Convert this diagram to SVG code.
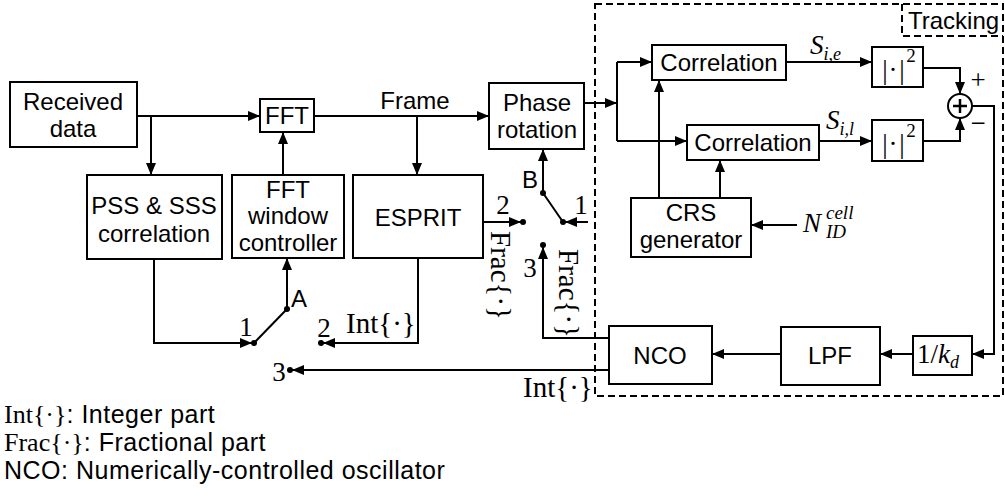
<svg xmlns="http://www.w3.org/2000/svg" width="1005" height="498" viewBox="0 0 1005 498">
<style>
rect.b{fill:#fff;stroke:#000;stroke-width:2}
.c path,.c line,.c polyline{fill:none;stroke:#000;stroke-width:2}
.s{font-family:"Liberation Sans",Arial,sans-serif;font-size:24px;fill:#000}
.m{font-family:"Liberation Serif","Times New Roman",serif;font-size:27px;fill:#000}
.f{font-family:"Liberation Serif","Times New Roman",serif;font-size:29px;fill:#000}
.fl{font-family:"Liberation Serif","Times New Roman",serif;font-size:26px;fill:#000}
.mi{font-family:"Liberation Serif","Times New Roman",serif;font-size:27px;font-style:italic;fill:#000}
.lg{font-family:"Liberation Sans",Arial,sans-serif;font-size:25px;letter-spacing:0.5px;fill:#000}
.mid{text-anchor:middle}
.dot{fill:#000}
.dash{fill:none;stroke:#000;stroke-width:2;stroke-dasharray:7 4}
</style>
<defs>
<marker id="ah" markerWidth="12" markerHeight="10" refX="12" refY="5" orient="auto" markerUnits="userSpaceOnUse"><path d="M0,0 L12,5 L0,10 z" fill="#000"/></marker>
</defs>
<rect width="1005" height="498" fill="#fff"/>

<g id="tracking-region">
<rect class="dash" x="595" y="4" width="408" height="392"/>
<polyline class="dash" points="902,4 902,36 1003,36"/>
<text class="s" x="908" y="29">Tracking</text>
</g>

<g class="c" id="connectors">
<polyline points="137,116 260,116" marker-end="url(#ah)"/>
<polyline points="151,116 151,175" marker-end="url(#ah)"/>
<polyline points="314,116 489,116" marker-end="url(#ah)"/>
<polyline points="417,116 417,175" marker-end="url(#ah)"/>
<polyline points="283,175 283,132" marker-end="url(#ah)"/>
<polyline points="154,259 154,343 252,343" marker-end="url(#ah)"/>
<polyline points="418,258 418,343 323,343" marker-end="url(#ah)"/>
<polyline points="287,309 287,258" marker-end="url(#ah)"/>
<line x1="287" y1="309" x2="254" y2="343"/>
<polyline points="483,222 521,222" marker-end="url(#ah)"/>
<polyline points="588,222 565,222" marker-end="url(#ah)"/>
<polyline points="543,193 543,149" marker-end="url(#ah)"/>
<line x1="543" y1="193" x2="563" y2="222"/>
<polyline points="609,338 543,338 543,247" marker-end="url(#ah)"/>
<polyline points="609,370 292,370" marker-end="url(#ah)"/>
<polyline points="584,103 617,103" marker-end="url(#ah)"/>
<polyline points="617,62 617,141"/>
<polyline points="617,62 652,62" marker-end="url(#ah)"/>
<polyline points="617,141 687,141" marker-end="url(#ah)"/>
<polyline points="786,62 872,62" marker-end="url(#ah)"/>
<polyline points="819,141 872,141" marker-end="url(#ah)"/>
<polyline points="659,198 659,80" marker-end="url(#ah)"/>
<polyline points="720,198 720,160" marker-end="url(#ah)"/>
<polyline points="797,225 751,225" marker-end="url(#ah)"/>
<polyline points="923,68 960,68 960,94" marker-end="url(#ah)"/>
<polyline points="923,141 960,141 960,118" marker-end="url(#ah)"/>
<polyline points="972,106 994,106 994,354 972,354" marker-end="url(#ah)"/>
<polyline points="913,354 880,354" marker-end="url(#ah)"/>
<polyline points="781,354 712,354" marker-end="url(#ah)"/>
</g>

<g id="switch-A">
<circle class="dot" cx="287" cy="309" r="3"/>
<circle class="dot" cx="254" cy="343" r="3"/>
<circle class="dot" cx="321" cy="343" r="3"/>
<circle class="dot" cx="290" cy="370" r="3"/>
<text class="s" x="291" y="307">A</text>
<text class="m mid" x="246" y="336">1</text>
<text class="m mid" x="324" y="337">2</text>
<text class="m mid" x="279" y="381">3</text>
<text class="f" x="346" y="333">Int{·}</text>
</g>

<g id="switch-B">
<circle class="dot" cx="543" cy="193" r="3"/>
<circle class="dot" cx="563" cy="222" r="3"/>
<circle class="dot" cx="523" cy="222" r="3"/>
<circle class="dot" cx="543" cy="245" r="3"/>
<text class="s" x="522" y="188">B</text>
<text class="m mid" x="581" y="214">1</text>
<text class="m mid" x="503" y="214">2</text>
<text class="m mid" x="530" y="277">3</text>
<text class="f" transform="translate(491,231) rotate(90)">Frac{·}</text>
<text class="f" transform="translate(559,249) rotate(90)">Frac{·}</text>
<text class="f" x="523" y="397">Int{·}</text>
</g>

<g id="received-data">
<rect class="b" x="10" y="82" width="127" height="65"/>
<text class="s mid" x="73" y="110">Received</text>
<text class="s mid" x="73" y="137">data</text>
</g>
<g id="fft">
<rect class="b" x="260" y="99" width="54" height="33"/>
<text class="s mid" x="287" y="124">FFT</text>
</g>
<text class="s mid" x="415" y="109">Frame</text>
<g id="pss-sss">
<rect class="b" x="87" y="175" width="135" height="84"/>
<text class="s mid" x="154" y="214">PSS &amp; SSS</text>
<text class="s mid" x="154" y="242">correlation</text>
</g>
<g id="fft-window">
<rect class="b" x="232" y="175" width="112" height="83"/>
<text class="s mid" x="288" y="198">FFT</text>
<text class="s mid" x="288" y="224">window</text>
<text class="s mid" x="288" y="251">controller</text>
</g>
<g id="esprit">
<rect class="b" x="353" y="175" width="130" height="83"/>
<text class="s mid" x="418" y="226">ESPRIT</text>
</g>
<g id="phase-rotation">
<rect class="b" x="489" y="83" width="95" height="66"/>
<text class="s mid" x="537" y="111">Phase</text>
<text class="s mid" x="537" y="138">rotation</text>
</g>
<g id="correlation-e">
<rect class="b" x="652" y="45" width="134" height="35"/>
<text class="s mid" x="719" y="71">Correlation</text>
</g>
<g id="correlation-l">
<rect class="b" x="687" y="125" width="132" height="35"/>
<text class="s mid" x="753" y="151">Correlation</text>
</g>
<text class="mi" x="810" y="54">S<tspan font-size="18" dy="6">i,e</tspan></text>
<text class="mi" x="826" y="129">S<tspan font-size="18" dy="6">i,l</tspan></text>
<g id="abs-e">
<rect class="b" x="872" y="47" width="51" height="40"/>
<text class="m mid"><tspan x="885" y="79">|</tspan><tspan x="893" y="79">·</tspan><tspan x="902" y="79">|</tspan><tspan x="911" y="62" font-size="19">2</tspan></text>
</g>
<g id="abs-l">
<rect class="b" x="872" y="120" width="51" height="41"/>
<text class="m mid"><tspan x="885" y="153">|</tspan><tspan x="893" y="153">·</tspan><tspan x="902" y="153">|</tspan><tspan x="911" y="137" font-size="19">2</tspan></text>
</g>
<g id="sum">
<circle cx="960" cy="106" r="12" fill="#fff" stroke="#000" stroke-width="2"/>
<line x1="953" y1="106" x2="967" y2="106" stroke="#000" stroke-width="2.5"/>
<line x1="960" y1="99" x2="960" y2="113" stroke="#000" stroke-width="2.5"/>
<text class="m mid" x="978" y="89">+</text>
<text class="m mid" x="978" y="132">−</text>
</g>
<g id="crs-generator">
<rect class="b" x="631" y="198" width="120" height="59"/>
<text class="s mid" x="691" y="221">CRS</text>
<text class="s mid" x="691" y="248">generator</text>
</g>
<text class="mi" x="803" y="232">N<tspan x="826" y="219" font-size="19">cell</tspan><tspan x="826" y="238" font-size="19">ID</tspan></text>
<g id="inv-kd">
<rect class="b" x="913" y="336" width="59" height="39"/>
<text class="m" x="917" y="363">1/<tspan font-style="italic">k</tspan><tspan font-style="italic" font-size="18" dy="5">d</tspan></text>
</g>
<g id="lpf">
<rect class="b" x="781" y="327" width="99" height="58"/>
<text class="s mid" x="830" y="364">LPF</text>
</g>
<g id="nco">
<rect class="b" x="609" y="326" width="103" height="58"/>
<text class="s mid" x="660" y="364">NCO</text>
</g>

<g id="legend">
<text x="4" y="423"><tspan class="fl">Int{·}</tspan><tspan class="lg">: Integer part</tspan></text>
<text x="4" y="451"><tspan class="fl">Frac{·}</tspan><tspan class="lg">: Fractional part</tspan></text>
<text class="lg" x="4" y="479">NCO: Numerically-controlled oscillator</text>
</g>
</svg>
